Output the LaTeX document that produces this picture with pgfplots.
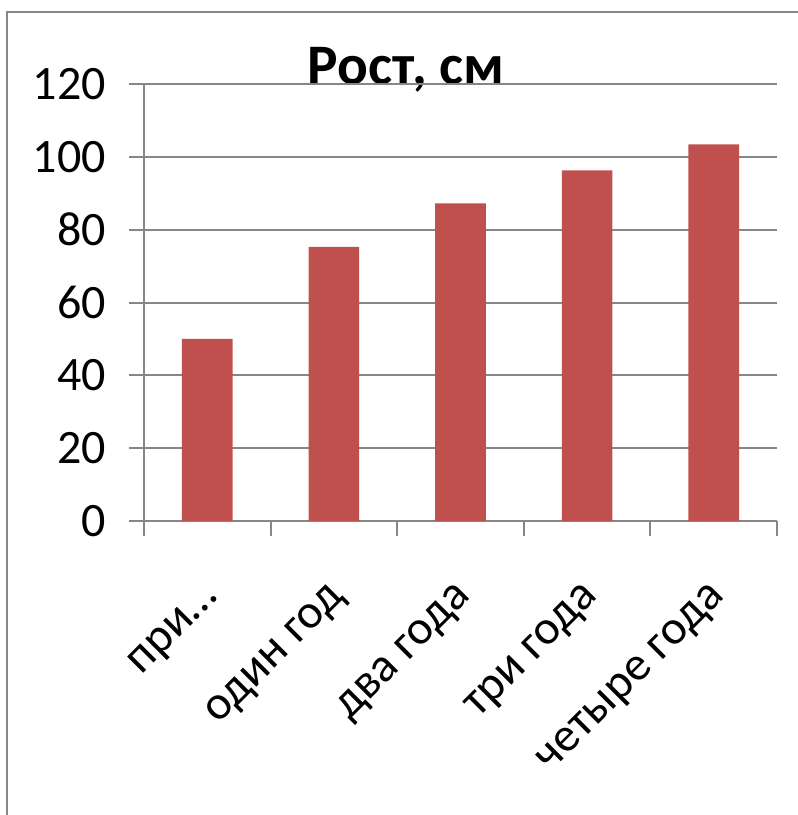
\documentclass[border=0pt]{standalone}
\usepackage{pgfplots}
\pgfplotsset{compat=1.18}
\usepackage{fontspec}
\setmainfont{Carlito}
\definecolor{barred}{HTML}{C0504D}
\definecolor{gridgray}{HTML}{868686}
\begin{document}
\begin{tikzpicture}
\useasboundingbox (0pt,0pt) rectangle (598.5pt,611.25pt);
\draw[gridgray, line width=1.2pt] (5.25pt,0pt) -- (5.25pt,602.25pt) -- (598.5pt,602.25pt);
\node[font=\fontsize{43}{48}\selectfont\bfseries, anchor=base] at (304.5pt,548pt) {Рост, см};
\begin{axis}[
  at={(108pt,220.5pt)}, anchor=south west,
  scale only axis, width=474.75pt, height=327.75pt,
  xmin=-0.5, xmax=4.5, ymin=0, ymax=120,
  ytick={0,20,...,120},
  xtick={-0.5,0.5,1.5,2.5,3.5,4.5},
  xticklabels={},
  axis x line*=bottom, axis y line*=left,
  axis line style={gridgray, line width=1.5pt, -},
  ymajorgrids, major grid style={gridgray, line width=1.5pt},
  tick style={gridgray, line width=1.5pt},
  major tick length=11pt,
  tick align=outside,
  extra x ticks={0,1,2,3,4},
  extra x tick labels={при…, один год, два года, три года, четыре года},
  extra x tick style={grid=none, tick style={draw=none}},
  /pgf/number format/assume math mode=true,
  ticklabel style={font=\fontsize{36}{40}\selectfont},
  yticklabel style={xshift=-14pt},
  xticklabel style={rotate=45, anchor=east, xshift=10pt},
  xticklabel shift=47pt,
  clip=false,
]
\addplot[ybar, bar width=0.4, fill=barred, draw=none] coordinates {(0,50) (1,75.3) (2,87.2) (3,96.3) (4,103.4)};
\end{axis}
\end{tikzpicture}
\end{document}
